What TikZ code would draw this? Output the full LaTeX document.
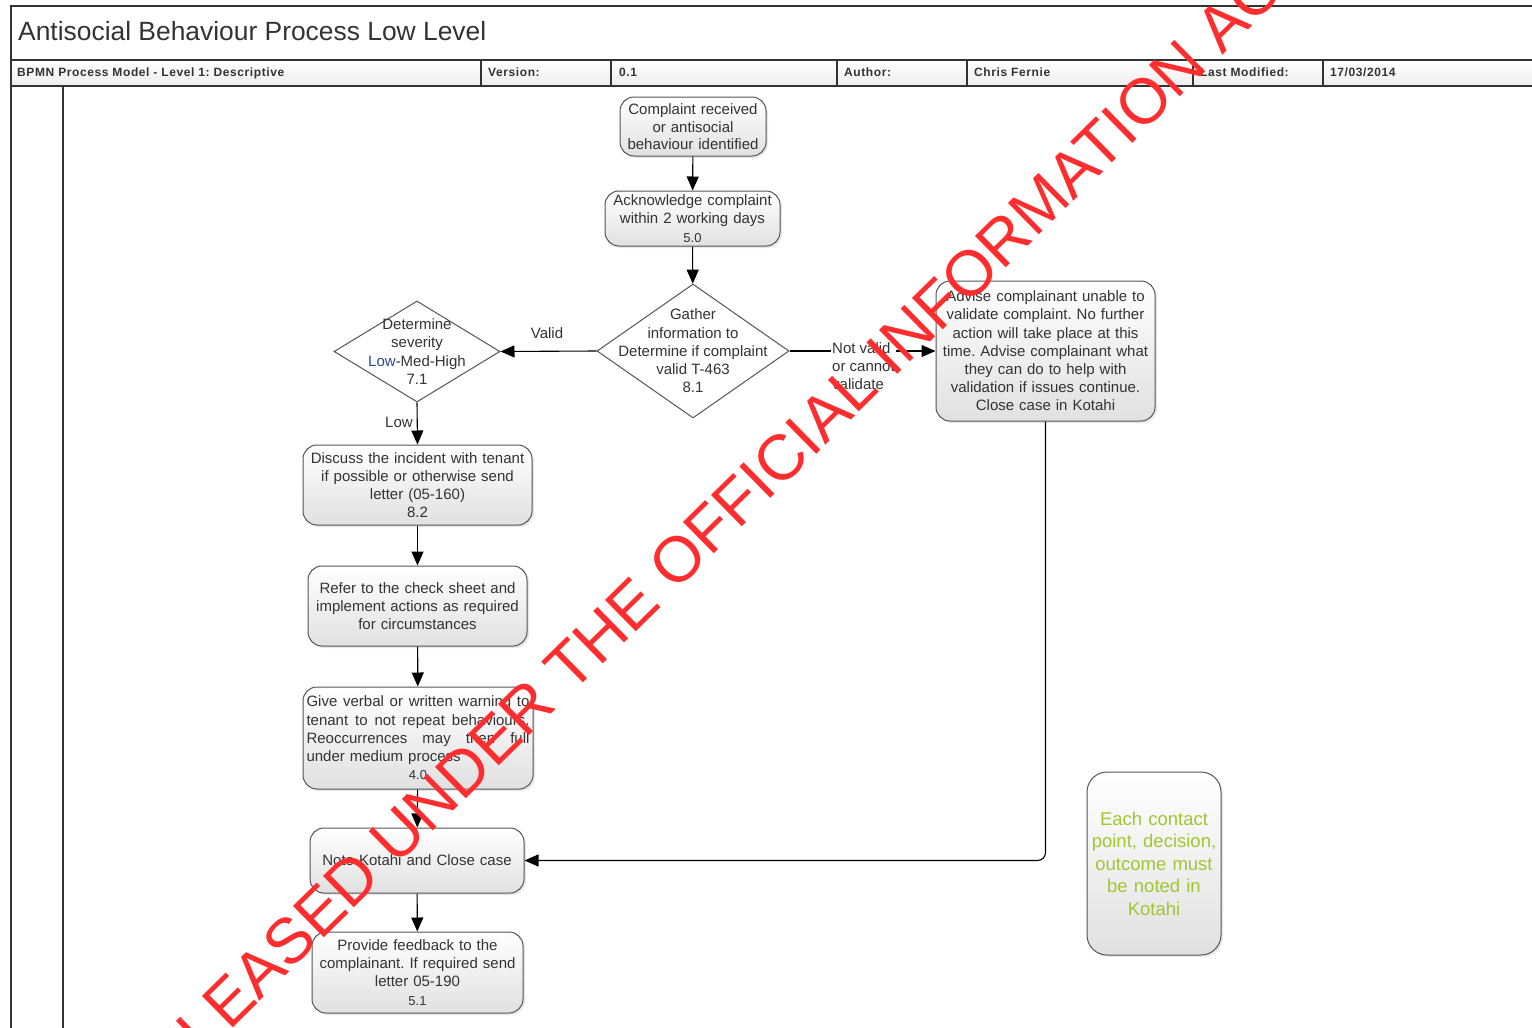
\documentclass[tikz,border=0pt]{standalone}
\usepackage{fontspec}
\setmainfont{Liberation Sans}
\newfontfamily\hdrfont[LetterSpace=5]{Liberation Sans}
\usetikzlibrary{shapes.geometric,arrows.meta,shadows}
\definecolor{txt}{HTML}{333333}
\definecolor{edge}{HTML}{555555}
\definecolor{wm}{RGB}{255,45,45}
\definecolor{lowblue}{HTML}{2F4A8A}
\definecolor{notegreen}{RGB}{160,198,50}
\newcommand\myfs{\fontsize{15}{18.2}\selectfont}
\newcommand\mysm{\fontsize{13}{15}\selectfont}
\frenchspacing
\begin{document}
\begin{tikzpicture}[x=1pt,y=-1pt,
  box/.style={draw=edge, line width=1pt, rounded corners=14pt, top color=white, bottom color=black!12,
    drop shadow={opacity=0.18, shadow xshift=2pt, shadow yshift=-2pt},
    inner sep=0pt, align=center, font=\myfs, text=txt},
  dec/.style={draw=edge, line width=1pt, diamond, fill=white, inner sep=0pt},
  flow/.style={draw=black, line width=1.1pt, -{Triangle[length=14pt,width=12pt]}},
  lbl/.style={font=\myfs, text=txt, inner sep=1pt},
  hdr/.style={font=\hdrfont\bfseries\fontsize{12}{14}\selectfont, text=txt, anchor=base west, inner sep=0pt},
  frame/.style={draw=black!80, line width=1.4pt}
]
\useasboundingbox (0,0) rectangle (1532,1028);
\fill[white] (0,0) rectangle (1532,1028);

% header
\path[top color=white, bottom color=black!7] (11,60) rectangle (1532,86);
\draw[frame] (11,1028) -- (11,6) -- (1532,6);
\draw[frame] (11,60) -- (1532,60);
\draw[frame] (11,86) -- (1532,86);
\draw[frame] (63,86) -- (63,1028);
\foreach \cx in {481,611,837,967,1193,1323} \draw[frame] (\cx,60) -- (\cx,86);
\node[anchor=base west, font=\fontsize{26.4}{30}\selectfont, text=txt, inner sep=0pt] (title) at (18,40) {Antisocial Behaviour Process Low Level};
\node[hdr] (h1) at (17,76) {BPMN Process Model - Level 1: Descriptive};
\node[hdr] (h2) at (488,76) {Version:};
\node[hdr] (h3) at (619,76) {0.1};
\node[hdr] (h4) at (844,76) {Author:};
\node[hdr] (h5) at (974,76) {Chris Fernie};
\node[hdr] (h6) at (1200,76) {Last Modified:};
\node[hdr] (h7) at (1330,76) {17/03/2014};

% nodes
\node[box, minimum width=146pt, minimum height=59pt, text width=144pt] (start) at (693,126.5)
  {\raisebox{2pt}{Complaint received}\\[-2pt]or antisocial\\[-2pt]behaviour identified};
\node[box, minimum width=175pt, minimum height=55pt, text width=172pt] (ack) at (692.5,218.5)
  {Acknowledge complaint\\within 2 working days\\{\mysm 5.0}};
\node[dec, minimum width=192pt, minimum height=134pt] (gather) at (693,351) {};
\node[lbl, align=center] (gathertext) at (gather.center)
  {Gather\\information to\\Determine if complaint\\valid T-463\\8.1};
\node[dec, minimum width=166pt, minimum height=101pt] (sev) at (417,351.5) {};
\node[lbl, align=center] (sevtext) at (sev.center)
  {Determine\\severity\\{\color{lowblue}Low}-Med-High\\7.1};
\node[box, minimum width=219pt, minimum height=140pt, text width=215pt] (advise) at (1045.5,351)
  {Advise complainant unable to\\validate complaint. No further\\action will take place at this\\time. Advise complainant what\\they can do to help with\\validation if issues continue.\\Close case in Kotahi};
\node[box, minimum width=229pt, minimum height=80pt, text width=225pt] (discuss) at (417.5,485)
  {Discuss the incident with tenant\\if possible or otherwise send\\letter (05-160)\\8.2};
\node[box, minimum width=219pt, minimum height=80pt, text width=215pt] (refer) at (417.5,606)
  {Refer to the check sheet and\\implement actions as required\\for circumstances};
\node[box, minimum width=230pt, minimum height=102pt, text width=223pt] (give) at (418,738)
  {\makebox[223pt][s]{Give\hfill verbal\hfill or\hfill written\hfill warning\hfill to}\\
   \makebox[223pt][s]{tenant\hfill to\hfill not\hfill repeat\hfill behaviours.}\\
   \makebox[223pt][s]{Reoccurrences\hfill may\hfill then\hfill full}\\
   \makebox[223pt][l]{under medium process}\\
   {\mysm 4.0}};
\node[box, minimum width=214pt, minimum height=65pt, text width=210pt] (note) at (417,860.5)
  {Note Kotahi and Close case};
\node[box, minimum width=211pt, minimum height=81pt, text width=207pt] (provide) at (417.5,972.5)
  {Provide feedback to the\\complainant. If required send\\letter 05-190\\{\mysm 5.1}};
\node[box, minimum width=134pt, minimum height=183pt, text width=130pt, rounded corners=20pt,
  text=notegreen, font=\fontsize{18.5}{22.5}\selectfont] (memo) at (1154,863.5)
  {Each contact\\point, decision,\\outcome must\\be noted in\\Kotahi};

% connectors
\draw[flow] (start) -- (ack);
\draw[flow] (ack) -- (gather);
\draw[flow] (gather.west) -- (sev.east);
\node[lbl] (validl) at (547,333) {Valid};
\draw[flow] (gather.east) -- (advise.west);
\node[lbl, fill=white, align=left, anchor=north west] (notvalidl) at (831,341) {Not valid\\or cannot\\validate};
\draw[flow] (sev.south) -- (discuss.north);
\node[lbl] (lowl) at (399,422) {Low};
\draw[flow] (discuss) -- (refer);
\draw[flow] (refer) -- (give);
\draw[flow] (give) -- (note);
\draw[flow] (note) -- (provide);
\draw[flow, rounded corners=8pt] (advise.south) |- (note.east);

% watermark
\begin{scope}
\clip (0,0) rectangle (1532,1028);
\node[rotate=44.5, anchor=base, text=wm, font=\fontsize{64}{70}\selectfont, inner sep=0pt] (wmark) at (727,542)
  {RELEASED UNDER THE OFFICIAL INFORMATION ACT};
\end{scope}
\end{tikzpicture}
\end{document}
